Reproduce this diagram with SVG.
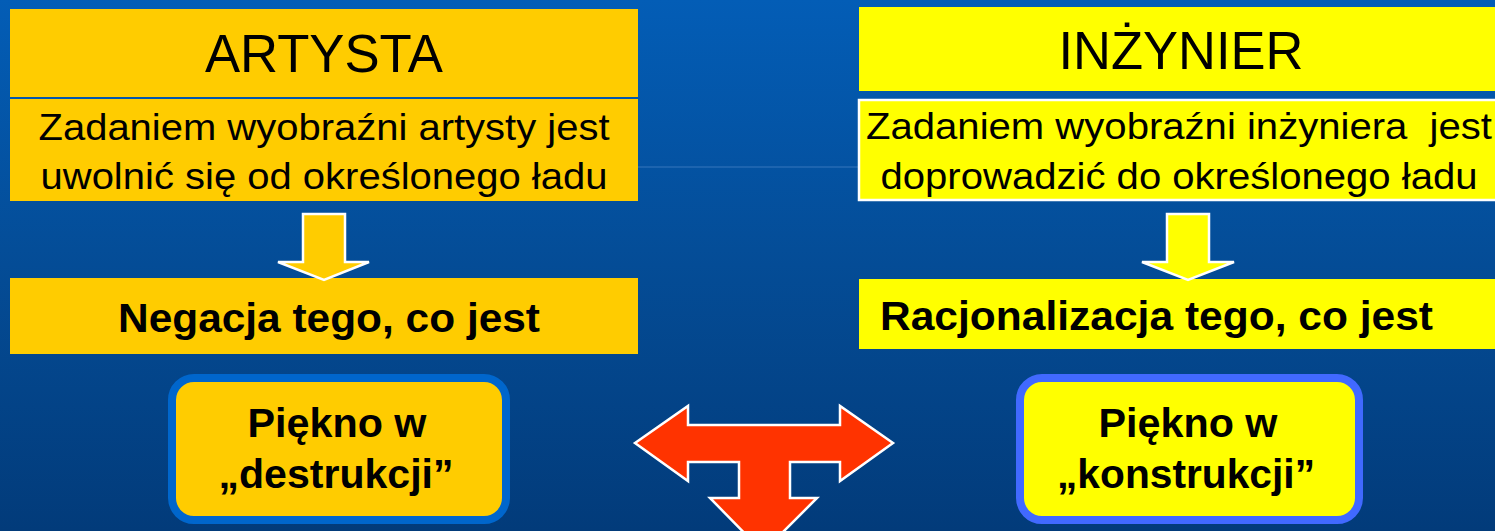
<svg xmlns="http://www.w3.org/2000/svg" width="1495" height="531" viewBox="0 0 1495 531">
<defs>
<linearGradient id="bg" x1="0" y1="0" x2="0" y2="1">
<stop offset="0" stop-color="#035DB6"/>
<stop offset="0.5" stop-color="#044C96"/>
<stop offset="1" stop-color="#023B7A"/>
</linearGradient>
<style>
.t{font-family:"Liberation Sans",Arial,sans-serif;fill:#000;text-anchor:middle}
.title{font-size:54px}
.desc{font-size:37px}
.bold{font-size:41px;font-weight:bold}
.yl{fill:#FFCC00}
.yr{fill:#FFFF00}
.arr{stroke:#fff;stroke-width:2.5;stroke-linejoin:miter}
</style>
</defs>
<rect width="1495" height="531" fill="url(#bg)"/>
<line x1="637" y1="167" x2="858" y2="167" stroke="#5A8FD0" stroke-width="1" opacity="0.6"/>

<g id="artysta">
<rect class="yl" x="10" y="9" width="628" height="88"/>
<text class="t title" x="324" y="72" textLength="238" lengthAdjust="spacingAndGlyphs">ARTYSTA</text>
</g>
<g id="artysta-opis">
<rect class="yl" x="10" y="99" width="628" height="102"/>
<text class="t desc" x="324" y="140" textLength="571" lengthAdjust="spacingAndGlyphs">Zadaniem wyobraźni artysty jest</text>
<text class="t desc" x="324" y="189" textLength="567" lengthAdjust="spacingAndGlyphs">uwolnić się od określonego ładu</text>
</g>
<g id="negacja">
<rect class="yl" x="10" y="278" width="628" height="76"/>
<text class="t bold" x="329" y="332" textLength="422" lengthAdjust="spacingAndGlyphs">Negacja tego, co jest</text>
</g>
<g id="piekno-destrukcji">
<rect x="172" y="378" width="334" height="142" rx="22" fill="#FFCC00" stroke="#0066CC" stroke-width="8"/>
<text class="t bold" x="337" y="437" textLength="179" lengthAdjust="spacingAndGlyphs">Piękno w</text>
<text class="t bold" x="336" y="488" textLength="235" lengthAdjust="spacingAndGlyphs">„destrukcji”</text>
</g>

<g id="inzynier">
<rect class="yr" x="859" y="7" width="640" height="84"/>
<text class="t title" x="1181" y="69" textLength="245" lengthAdjust="spacingAndGlyphs">INŻYNIER</text>
</g>
<g id="inzynier-opis">
<rect class="yr" x="859" y="100" width="640" height="100" stroke="#fff" stroke-width="2.5"/>
<text x="866" y="139" font-family="Liberation Sans, Arial, sans-serif" font-size="37" textLength="626" lengthAdjust="spacingAndGlyphs" style="white-space:pre">Zadaniem wyobraźni inżyniera  jest</text>
<text class="t desc" x="1179" y="189" textLength="597" lengthAdjust="spacingAndGlyphs">doprowadzić do określonego ładu</text>
</g>
<g id="racjonalizacja">
<rect class="yr" x="859" y="279" width="640" height="70"/>
<text x="880" y="330" font-family="Liberation Sans, Arial, sans-serif" font-size="41" font-weight="bold" textLength="553" lengthAdjust="spacingAndGlyphs">Racjonalizacja tego, co jest</text>
</g>
<g id="piekno-konstrukcji">
<rect x="1020" y="378" width="339" height="142" rx="22" fill="#FFFF00" stroke="#4169FF" stroke-width="8"/>
<text class="t bold" x="1188" y="437" textLength="179" lengthAdjust="spacingAndGlyphs">Piękno w</text>
<text class="t bold" x="1186" y="488" textLength="258" lengthAdjust="spacingAndGlyphs">„konstrukcji”</text>
</g>

<g id="connectors">
<polygon class="arr" fill="#FFCC00" points="303,214 345,214 345,262 369,262 324,280 278,262 303,262"/>
<polygon class="arr" fill="#FFFF00" points="1167,214 1209,214 1209,262 1234,262 1188,280 1142,262 1167,262"/>
<polygon class="arr" fill="#FF3300" points="635,443 688,406 688,425 840,425 840,406 893,443 840,481 840,462 790,462 790,498 817,498 763,552 710,498 739,498 739,462 688,462 688,481"/>
</g>
</svg>
